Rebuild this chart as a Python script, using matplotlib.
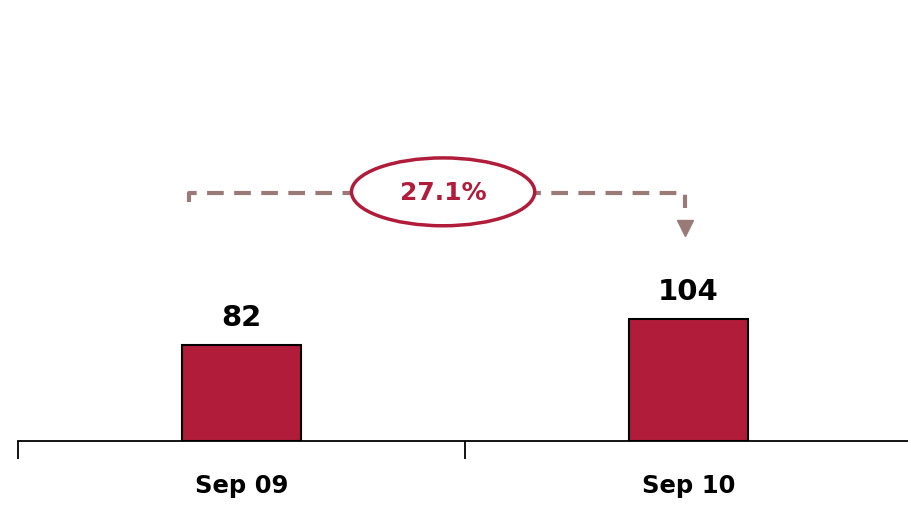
import matplotlib.pyplot as plt
from matplotlib.patches import Ellipse

# data
categories = ["Sep 09", "Sep 10"]
values = [82, 104]
growth_label = "27.1%"

BAR = "#b01c3a"
DASH = "#9a7a76"

fig = plt.figure(figsize=(9.08, 5.05), dpi=100)
ax = fig.add_axes([18 / 908, (505 - 441) / 505, 894 / 908, 441 / 505])

x = list(range(len(categories)))
ax.bar(x, values, width=0.265, color=BAR, edgecolor="black", linewidth=1.5, zorder=2)
for xi, v in zip(x, values):
    ax.text(xi, v + 11, str(v), ha="center", va="bottom", fontsize=21,
            fontweight="bold", color="black")

ax.set_xlim(-0.5, 1.5)
ax.set_ylim(0, 377)

# bracket with growth annotation
y_line = 212
xl, xr, xm = -0.117, 0.992, 0.451
dash = (0, (4, 2.5))
ax.plot([xl, xl, xm], [y_line - 8, y_line, y_line], ls=dash,
        color=DASH, lw=3, zorder=1)
ax.plot([xm, xr, xr], [y_line, y_line, y_line - 13], ls=dash,
        color=DASH, lw=3, zorder=1)
ax.plot([xr], [182], marker="v", ms=11, color=DASH, mec=DASH)

ell = Ellipse((xm, 213), width=0.41, height=58, facecolor="white",
              edgecolor=BAR, lw=2.5, zorder=3)
ax.add_patch(ell)
ax.text(xm, 212, growth_label, ha="center", va="center", fontsize=18,
        fontweight="bold", color=BAR, zorder=4)

# axis styling
for s in ["top", "right", "left"]:
    ax.spines[s].set_visible(False)
ax.spines["bottom"].set_linewidth(1.3)
ax.set_yticks([])
ax.set_xticks([-0.5, 0.5], minor=False)
ax.set_xticklabels([])
ax.tick_params(axis="x", length=13, width=1.3, direction="out")
ax.set_xticks(x, minor=True)
ax.set_xticklabels(categories, minor=True, fontsize=17.5, fontweight="bold")
ax.tick_params(axis="x", which="minor", length=0, pad=24)

fig.savefig("out.png", dpi=100)
